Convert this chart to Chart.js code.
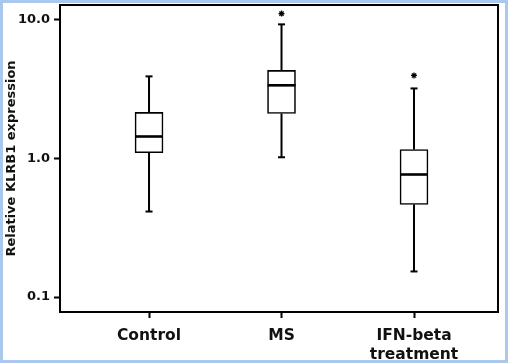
<!DOCTYPE html>
<html>
<head>
<meta charset="utf-8">
<script src="https://cdn.jsdelivr.net/npm/chart.js@4"></script>
<style>
  html, body { margin: 0; padding: 0; background: #fff; }
  #frame {
    width: 508px; height: 363px; box-sizing: border-box;
    border: 3px solid #a8c8ec; background: #fff;
  }
  #frame canvas { display: block; }
</style>
</head>
<body>
<div id="frame"><canvas id="boxChart" width="502" height="357"></canvas></div>
<script>
// groups and box statistics
const groups = ["Control", "MS", ["IFN-beta", "treatment"]];
const whiskerLow = [0.414, 1.02, 0.153];
const quartile1 = [1.10, 2.11, 0.466];
const medians = [1.44, 3.37, 0.766];
const quartile3 = [2.15, 4.32, 1.16];
const whiskerHigh = [3.91, 9.28, 3.20];
// outliers marked with an asterisk
const outlierGroup = [1, 2];
const outlierValue = [11.1, 3.97];
const yTicks = [0.1, 1, 10];
const yTickLabels = ["0.1", "1.0", "10.0"];

let boxData = groups.map((g, i) => ({ x: i, y: [quartile1[i], quartile3[i]] }));
let whiskerData = [];
groups.forEach((g, i) => {
    whiskerData.push({ x: i, y: whiskerLow[i] }, { x: i, y: quartile1[i] }, { x: i, y: null });
    whiskerData.push({ x: i, y: quartile3[i] }, { x: i, y: whiskerHigh[i] }, { x: i, y: null });
});
let capData = [];
groups.forEach((g, i) => {
    capData.push({ x: i, y: whiskerLow[i] }, { x: i, y: whiskerHigh[i] });
});
let medianData = groups.map((g, i) => ({ x: i, y: medians[i] }));
let outlierData = outlierGroup.map((g, i) => ({ x: g, y: outlierValue[i] }));

// box around the whole plot area
const frameBox = {
    id: "frameBox",
    afterDraw(chart) {
        let a = chart.chartArea;
        let ctx = chart.ctx;
        ctx.save();
        ctx.strokeStyle = "#000";
        ctx.lineWidth = 2;
        ctx.strokeRect(a.left, a.top, a.right - a.left, a.bottom - a.top);
        ctx.restore();
    }
};

const fontFamily = "DejaVu Sans, Arial, sans-serif";

new Chart(document.getElementById("boxChart"), {
    type: "bar",
    data: {
        datasets: [
            {
                type: "bar",
                data: boxData,
                backgroundColor: "#fff",
                borderColor: "#000",
                borderWidth: 1.6,
                borderSkipped: false,
                barThickness: 28,
                order: 3
            },
            {
                type: "line",
                data: whiskerData,
                borderColor: "#000",
                borderWidth: 2,
                pointRadius: 0,
                spanGaps: false,
                fill: false,
                order: 4
            },
            {
                type: "scatter",
                data: capData,
                pointStyle: "line",
                pointRadius: 3.5,
                borderColor: "#000",
                borderWidth: 2,
                order: 2
            },
            {
                type: "scatter",
                data: medianData,
                pointStyle: "line",
                pointRadius: 14,
                borderColor: "#000",
                borderWidth: 2.6,
                order: 1
            },
            {
                type: "scatter",
                data: outlierData,
                pointStyle: "star",
                pointRadius: 3,
                borderColor: "#000",
                borderWidth: 1.3,
                order: 1
            }
        ]
    },
    options: {
        responsive: false,
        animation: false,
        events: [],
        layout: { autoPadding: false, padding: { top: 2, right: 7, left: 0, bottom: 0 } },
        plugins: {
            legend: { display: false },
            tooltip: { enabled: false }
        },
        scales: {
            x: {
                type: "linear",
                min: -0.672,
                max: 2.634,
                offset: false,
                afterBuildTicks: scale => {
                    scale.ticks = groups.map((g, i) => ({ value: i }));
                },
                afterFit: scale => {
                    scale.height = 48;
                    scale.paddingLeft = 0;
                    scale.paddingRight = 0;
                },
                ticks: {
                    color: "#111",
                    font: { family: fontFamily, size: 15.5, weight: "bold", lineHeight: 1.22 },
                    padding: 9,
                    maxRotation: 0,
                    autoSkip: false,
                    callback: v => groups[v]
                },
                grid: {
                    offset: false,
                    drawOnChartArea: false,
                    color: "#000",
                    tickLength: 6,
                    tickWidth: 2
                },
                border: { display: true, color: "#000", width: 2 }
            },
            y: {
                type: "logarithmic",
                min: 0.078,
                max: 12.8,
                afterBuildTicks: scale => {
                    scale.ticks = yTicks.map(v => ({ value: v }));
                },
                afterFit: scale => {
                    scale.width = 57;
                    scale.paddingTop = 0;
                    scale.paddingBottom = 0;
                },
                ticks: {
                    color: "#111",
                    font: { family: fontFamily, size: 13, weight: "bold" },
                    padding: 4,
                    autoSkip: false,
                    callback: v => yTickLabels[yTicks.indexOf(v)]
                },
                grid: {
                    drawOnChartArea: false,
                    color: "#000",
                    tickLength: 6,
                    tickWidth: 2
                },
                border: { display: true, color: "#000", width: 2 },
                title: {
                    display: true,
                    text: "Relative KLRB1 expression",
                    color: "#111",
                    font: { family: fontFamily, size: 13, weight: "bold" },
                    padding: { top: 1, bottom: 0 }
                }
            }
        }
    },
    plugins: [frameBox]
});
</script>
</body>
</html>
